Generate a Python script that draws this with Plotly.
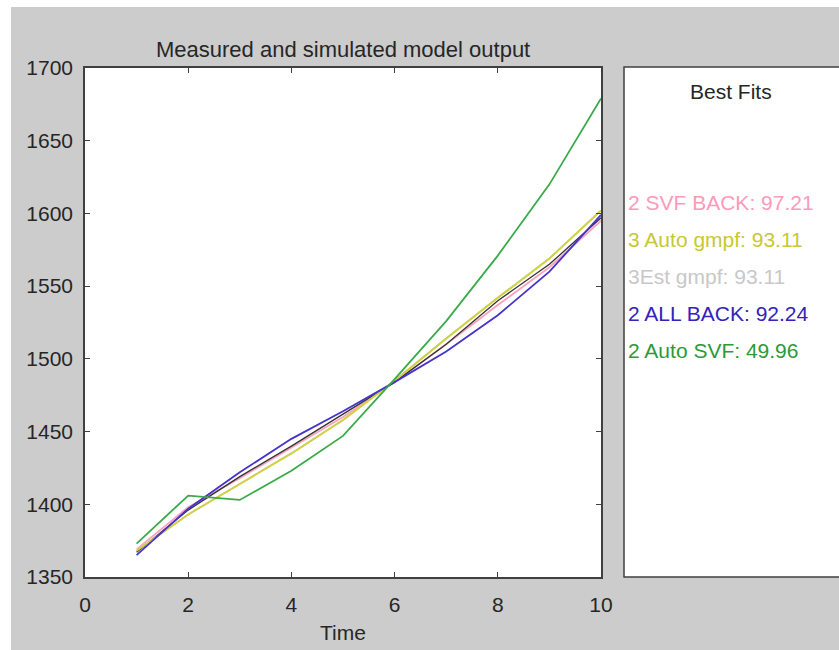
import plotly.graph_objects as go

time = [1, 2, 3, 4, 5, 6, 7, 8, 9, 10]
measured = [1367, 1396, 1419, 1440, 1462, 1484, 1510, 1540, 1565, 1597]
svf_back = [1369, 1398, 1418, 1439, 1460, 1484, 1510, 1537, 1563, 1595]
auto_gmpf = [1368, 1393, 1414, 1435, 1458, 1485, 1514, 1542, 1569, 1602]
est_gmpf = [1368, 1393, 1414, 1435, 1458, 1485, 1514, 1542, 1569, 1602]
all_back = [1365, 1397, 1422, 1445, 1464, 1484, 1505, 1530, 1560, 1599]
auto_svf = [1373, 1406, 1403, 1423, 1447, 1486, 1526, 1571, 1620, 1679]

legend_labels = ["2 SVF BACK: 97.21", "3 Auto gmpf: 93.11", "3Est gmpf: 93.11",
                 "2 ALL BACK: 92.24", "2 Auto SVF: 49.96"]
legend_colors = ["#ff99bb", "#c8c832", "#c8c8c8", "#3322bb", "#2a9a3a"]

y_ticks = [1350, 1400, 1450, 1500, 1550, 1600, 1650, 1700]
x_ticks = [0, 2, 4, 6, 8, 10]

FONT = "Liberation Sans, Arial, sans-serif"

fig = go.Figure()
series = [
    (est_gmpf, "#c8c8c8", 1.8),
    (svf_back, "#ffa0bc", 1.8),
    (measured, "#333333", 1.3),
    (auto_gmpf, "#d2d23c", 1.8),
    (all_back, "#4433cc", 1.8),
    (auto_svf, "#3aaa4a", 1.8),
]
for ys, c, w in series:
    fig.add_trace(go.Scatter(x=time, y=ys, mode="lines",
                             line=dict(color=c, width=w), showlegend=False,
                             hoverinfo="skip"))

W, H = 839, 650
L, R, T, B = 85, 601, 68, 577
pw, ph = R - L, B - T

def px(xp):
    return (xp - L) / pw

def py(yp):
    return (B - yp) / ph

shapes = [
    dict(type="rect", xref="paper", yref="paper", x0=px(11), x1=px(845),
         y0=py(7), y1=py(660), fillcolor="#cccccc", line=dict(width=0), layer="below"),
    dict(type="rect", xref="paper", yref="paper", x0=0, x1=1, y0=0, y1=1,
         fillcolor="white", line=dict(width=0), layer="below"),
    dict(type="rect", xref="paper", yref="paper", x0=px(624), x1=px(860),
         y0=py(67), y1=py(577), fillcolor="white",
         line=dict(color="#404040", width=1.5), layer="below"),
]

annotations = [
    dict(text="Measured and simulated model output", xref="paper", yref="paper",
         x=px(343), y=py(50), xanchor="center", yanchor="middle", showarrow=False,
         font=dict(family=FONT, size=22, color="#262626")),
    dict(text="Time", xref="paper", yref="paper",
         x=px(343), y=py(632), xanchor="center", yanchor="middle", showarrow=False,
         font=dict(family=FONT, size=21, color="#262626")),
    dict(text="Best Fits", xref="paper", yref="paper",
         x=px(731), y=py(92), xanchor="center", yanchor="middle", showarrow=False,
         font=dict(family=FONT, size=21, color="#262626")),
]
for i, (lab, col) in enumerate(zip(legend_labels, legend_colors)):
    annotations.append(dict(text=lab, xref="paper", yref="paper",
                            x=px(626), y=py(202 + 37 * i), xanchor="left",
                            yanchor="middle", showarrow=False,
                            font=dict(family=FONT, size=21, color=col)))

fig.update_layout(
    width=W, height=H,
    margin=dict(l=L, r=W - R, t=T, b=H - B, pad=0),
    paper_bgcolor="white", plot_bgcolor="white",
    font=dict(family=FONT, size=21, color="#262626"),
    shapes=shapes, annotations=annotations,
    xaxis=dict(range=[0, 10], tickvals=x_ticks, ticks="inside", ticklen=5,
               tickcolor="#404040", showline=True, linecolor="#404040", linewidth=1.5,
               mirror="ticks", showgrid=False, zeroline=False,
               ticklabelstandoff=8, tickfont=dict(size=21, color="#262626")),
    yaxis=dict(range=[1350, 1700], tickvals=y_ticks, ticks="inside", ticklen=5,
               tickcolor="#404040", showline=True, linecolor="#404040", linewidth=1.5,
               mirror="ticks", showgrid=False, zeroline=False,
               ticklabelstandoff=6, tickfont=dict(size=21, color="#262626")),
)

fig.write_html("out.html")
